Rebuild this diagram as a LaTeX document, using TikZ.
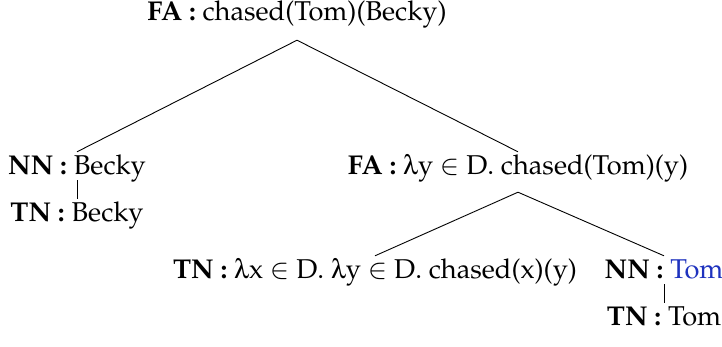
\documentclass[tikz,border=0pt]{standalone}
\usepackage[T1]{fontenc}
\usepackage{mathpazo}
\usepackage[Symbol]{upgreek}
\usetikzlibrary{positioning}
\definecolor{leafblue}{RGB}{30,50,190}
\tikzset{
  lbl/.style={inner sep=0pt, anchor=base, text height=22pt},
  branch/.style={lbl, text depth=18pt},
  unary/.style={lbl, text depth=6pt},
  leaf/.style={lbl, text depth=6pt},
  edge/.style={draw=black, line width=0.9pt}
}
\newcommand{\cat}[1]{\textbf{#1 :}}
\newcommand{\lam}{$\uplambda$}
\begin{document}
\begin{tikzpicture}[x=1pt,y=-1pt,font=\fontsize{27.2}{32}\selectfont]
  \useasboundingbox (0,0) rectangle (722,346);
  % root
  \node[branch, text depth=20pt] (root) at (297,20) {\cat{FA} chased(Tom)(Becky)};
  % left subtree
  \node[unary] (nnB) at (77,174) {\cat{NN} Becky};
  \node[leaf] (tnB) at (77,221) {\cat{TN} Becky};
  % right subtree
  \node[branch] (faR) at (518,174) {\cat{FA} \lam y $\in$ D. chased(Tom)(y)};
  \node[leaf] (tnL) at (375,278) {\cat{TN} \lam x $\in$ D. \lam y $\in$ D. chased(x)(y)};
  \node[unary] (nnT) at (664,278) {\cat{NN} \textcolor{leafblue}{Tom}};
  \node[leaf] (tnT) at (664,325) {\cat{TN} Tom};
  % connectors
  \draw[edge] (root.south) -- (nnB.north);
  \draw[edge] (root.south) -- (faR.north);
  \draw[edge] (nnB.south) -- (tnB.north);
  \draw[edge] (faR.south) -- (tnL.north);
  \draw[edge] (faR.south) -- (nnT.north);
  \draw[edge] (nnT.south) -- (tnT.north);
\end{tikzpicture}
\end{document}
